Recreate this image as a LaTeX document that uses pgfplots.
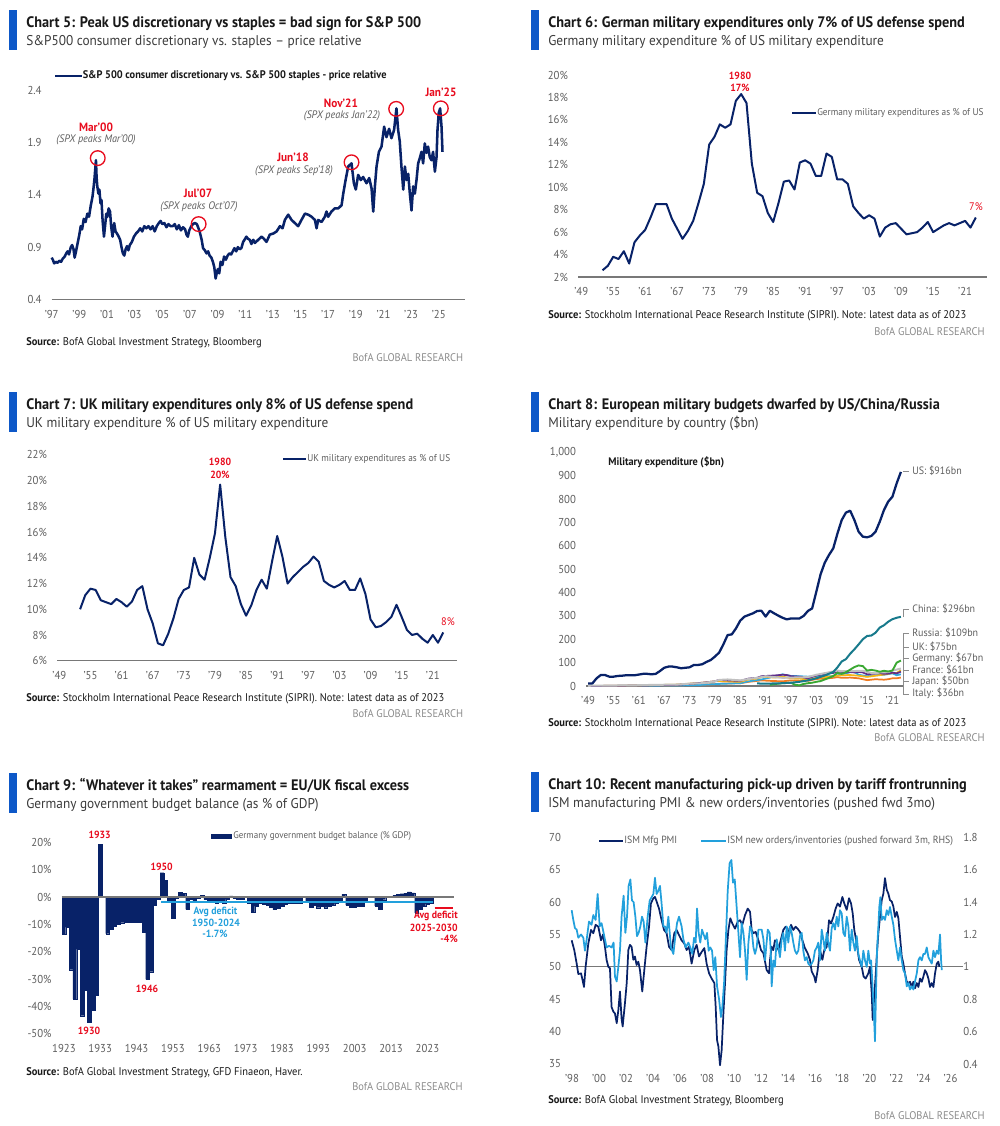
\documentclass[border=0pt]{standalone}
\usepackage{fontspec}
\setmainfont{PT Sans}[FakeStretch=0.94]
\usepackage{pgfplots}
\pgfplotsset{compat=1.18}

\definecolor{bnavy}{RGB}{8,34,104}
\definecolor{bblue}{RGB}{13,88,200}
\definecolor{bred}{RGB}{232,12,30}
\definecolor{blite}{RGB}{34,160,220}
\definecolor{tgray}{RGB}{95,95,95}
\definecolor{sgray}{RGB}{140,140,140}
\definecolor{agray}{RGB}{120,120,120}
\definecolor{ink}{RGB}{25,25,25}
\definecolor{subc}{RGB}{60,60,60}
\definecolor{cteal}{RGB}{24,122,140}
\definecolor{cgreen}{RGB}{58,168,50}
\definecolor{cuk}{RGB}{192,192,192}
\definecolor{cger}{RGB}{245,182,20}
\definecolor{cfra}{RGB}{96,46,138}
\definecolor{cjap}{RGB}{48,168,222}
\definecolor{cita}{RGB}{240,122,32}

\newcommand\fttl{\fontsize{11.4}{13}\selectfont\bfseries}
\newcommand\fsub{\fontsize{10.6}{13}\selectfont}
\newcommand\ftick{\fontsize{8.6}{10}\selectfont}
\newcommand\fleg{\fontsize{7.4}{9}\selectfont}
\newcommand\fsrc{\fontsize{8.35}{10}\selectfont}
\newcommand\flab{\fontsize{8}{10}\selectfont}
\newcommand\fann{\fontsize{9}{10}\selectfont\bfseries}
\newcommand\fnum{\fontsize{7.8}{9}\selectfont\bfseries}
\newcommand\fita{\fontsize{8.15}{10}\selectfont\itshape}

% bar x, bar top, title, subtitle
\newcommand\header[4]{%
  \fill[bblue] (#1,-#2) rectangle (#1+8,-#2-40);
  \node[anchor=base west,inner sep=0pt,text=ink] at (#1+17,-#2-17.3) {\fttl #3};
  \node[anchor=base west,inner sep=0pt,text=subc] at (#1+17,-#2-35.5) {\fsub #4};
}
% x, source baseline, source text, bofa baseline, right edge
\newcommand\footer[5]{%
  \node[anchor=base west,inner sep=0pt,text=ink] at (#1,-#2) {\fsrc\textbf{Source:} #3};
  \node[anchor=base east,inner sep=0pt,text=sgray] at (#5,-#4) {\fsrc BofA GLOBAL RESEARCH};
}

\pgfplotsset{
  bofa/.style={
    scale only axis, clip=false,
    axis x line*=bottom, axis y line*=left,
    x axis line style={-, draw=agray, line width=0.9pt},
    y axis line style={draw=none},
    major tick length=0pt, tick style={draw=none},
    ticklabel style={font=\ftick, text=tgray, inner sep=0pt},
    yticklabel style={anchor=east, xshift=-7.4pt},
    xticklabel style={anchor=north, yshift=-7.6pt},
  },
  yrs/.style={xtick={1949,1955,...,2021},
    xticklabels={'49,'55,'61,'67,'73,'79,'85,'91,'97,'03,'09,'15,'21}},
}

\begin{document}
\begin{tikzpicture}[x=0.75pt,y=0.75pt]
\fill[white] (0,0) rectangle (999,-1126);
\useasboundingbox (0,0) rectangle (999,-1126);

%% ---------------- Chart 5 ----------------
\header{9}{10}{Chart 5: Peak US discretionary vs staples = bad sign for S\&P 500}{S\&P500 consumer discretionary vs. staples – price relative}
\footer{26}{345.7}{BofA Global Investment Strategy, Bloomberg}{361}{463.3}
\draw[bnavy, line width=2pt] (55,-76) -- (82,-76);
\node[anchor=west, inner sep=0pt, text=ink] at (82.5,-76) {\fontsize{8.25}{9}\selectfont\bfseries S\&P 500 consumer discretionary vs. S\&P 500 staples - price relative};
\begin{axis}[bofa, at={(38.775pt,-224.625pt)}, anchor=south west, width=309.98pt, height=157.1pt,
  xmin=1997, xmax=2026.9, ymin=0.4, ymax=2.4,
  xtick={1997,1999,...,2025},
  xticklabels={'97,'99,'01,'03,'05,'07,'09,'11,'13,'15,'17,'19,'21,'23,'25},
  ytick={0.4,0.9,1.4,1.9,2.4}, yticklabels={0.4,0.9,1.4,1.9,2.4}]
\addplot[bnavy, line width=1.9pt, line join=round] coordinates {
(1997.00,0.80)(1997.08,0.78)(1997.18,0.745)(1997.30,0.76)(1997.42,0.75)(1997.55,0.77)(1997.68,0.76)(1997.80,0.79)(1997.94,0.81)(1998.05,0.84)(1998.15,0.86)(1998.25,0.83)(1998.38,0.90)(1998.48,0.92)(1998.58,0.88)(1998.66,0.80)(1998.76,0.86)(1998.88,0.94)(1999.00,1.02)(1999.10,1.10)(1999.20,1.07)(1999.32,1.17)(1999.45,1.14)(1999.58,1.22)(1999.70,1.19)(1999.83,1.30)(1999.95,1.38)(2000.03,1.47)(2000.10,1.56)(2000.20,1.73)(2000.25,1.56)(2000.30,1.48)(2000.38,1.41)(2000.45,1.45)(2000.53,1.32)(2000.60,1.35)(2000.68,1.16)(2000.78,1.00)(2000.86,1.10)(2000.95,1.22)(2001.03,1.19)(2001.12,1.27)(2001.22,1.24)(2001.30,1.10)(2001.40,1.00)(2001.52,1.13)(2001.62,1.05)(2001.72,1.03)(2001.85,1.00)(2001.95,0.97)(2002.05,0.90)(2002.15,0.84)(2002.25,0.82)(2002.35,0.88)(2002.45,0.91)(2002.55,0.87)(2002.65,0.92)(2002.80,0.95)(2002.95,1.00)(2003.10,1.03)(2003.25,1.05)(2003.40,1.08)(2003.55,1.05)(2003.70,1.10)(2003.85,1.08)(2004.00,1.10)(2004.15,1.07)(2004.30,1.10)(2004.45,1.05)(2004.60,1.10)(2004.75,1.13)(2004.88,1.15)(2005.00,1.12)(2005.15,1.13)(2005.30,1.09)(2005.45,1.12)(2005.60,1.10)(2005.75,1.10)(2005.90,1.12)(2006.05,1.07)(2006.20,1.11)(2006.35,1.06)(2006.50,1.09)(2006.65,1.07)(2006.75,1.02)(2006.85,1.00)(2006.95,1.06)(2007.10,1.10)(2007.22,1.12)(2007.35,1.13)(2007.50,1.12)(2007.62,1.08)(2007.70,1.05)(2007.85,0.97)(2007.95,0.89)(2008.08,0.87)(2008.20,0.84)(2008.32,0.86)(2008.42,0.82)(2008.55,0.80)(2008.66,0.76)(2008.76,0.71)(2008.86,0.60)(2008.95,0.66)(2009.02,0.69)(2009.12,0.65)(2009.22,0.76)(2009.35,0.73)(2009.47,0.81)(2009.60,0.78)(2009.73,0.82)(2009.85,0.84)(2009.98,0.83)(2010.10,0.86)(2010.22,0.89)(2010.35,0.86)(2010.47,0.90)(2010.60,0.88)(2010.72,0.89)(2010.85,0.95)(2010.95,0.97)(2011.08,1.00)(2011.20,0.98)(2011.33,0.97)(2011.45,0.93)(2011.58,0.97)(2011.70,0.94)(2011.94,0.97)(2012.18,1.00)(2012.35,0.98)(2012.54,0.95)(2012.78,1.02)(2013.03,1.03)(2013.27,1.05)(2013.51,1.10)(2013.70,1.08)(2013.87,1.16)(2014.11,1.21)(2014.35,1.16)(2014.59,1.13)(2014.83,1.10)(2015.07,1.16)(2015.32,1.22)(2015.56,1.21)(2015.80,1.19)(2016.04,1.16)(2016.16,1.08)(2016.28,1.16)(2016.52,1.14)(2016.76,1.19)(2016.88,1.24)(2017.00,1.19)(2017.24,1.24)(2017.48,1.27)(2017.73,1.27)(2017.97,1.30)(2018.09,1.41)(2018.26,1.54)(2018.45,1.67)(2018.69,1.70)(2018.86,1.51)(2019.00,1.45)(2019.17,1.59)(2019.36,1.54)(2019.53,1.57)(2019.77,1.51)(2019.97,1.56)(2020.14,1.46)(2020.26,1.24)(2020.38,1.48)(2020.50,1.67)(2020.67,1.81)(2020.86,1.86)(2021.05,2.05)(2021.22,1.95)(2021.41,2.03)(2021.58,1.94)(2021.77,2.02)(2021.94,2.225)(2022.06,2.02)(2022.18,1.91)(2022.30,1.67)(2022.43,1.45)(2022.55,1.67)(2022.67,1.54)(2022.79,1.60)(2022.91,1.41)(2023.03,1.25)(2023.15,1.48)(2023.27,1.41)(2023.39,1.54)(2023.51,1.70)(2023.63,1.75)(2023.75,1.81)(2023.87,1.70)(2023.99,1.89)(2024.11,1.80)(2024.23,1.86)(2024.35,1.76)(2024.47,1.73)(2024.59,1.81)(2024.72,1.62)(2024.84,1.76)(2024.91,2.02)(2025.00,2.18)(2025.10,2.225)(2025.20,2.05)(2025.27,1.81)};
\draw[bred, line width=1pt] (axis cs:2000.33,1.75) circle[radius=5.5pt];
\draw[bred, line width=1pt] (axis cs:2007.63,1.12) circle[radius=5.5pt];
\draw[bred, line width=1pt] (axis cs:2018.69,1.71) circle[radius=5.5pt];
\draw[bred, line width=1pt] (axis cs:2021.92,2.22) circle[radius=5.5pt];
\draw[bred, line width=1pt] (axis cs:2025.15,2.225) circle[radius=5.5pt];
\end{axis}
\node[text=bred, inner sep=0pt] at (96,-127) {\fann Mar'00};
\node[text=tgray, inner sep=0pt] at (96,-140) {\fita (SPX peaks Mar'00)};
\node[text=bred, inner sep=0pt] at (198,-193) {\fann Jul'07};
\node[text=tgray, inner sep=0pt] at (199,-207) {\fita (SPX peaks Oct'07)};
\node[text=bred, inner sep=0pt] at (293,-157) {\fann Jun'18};
\node[text=tgray, inner sep=0pt] at (294,-171) {\fita (SPX peaks Sep'18)};
\node[text=bred, inner sep=0pt] at (341,-103) {\fann Nov'21};
\node[text=tgray, inner sep=0pt] at (342,-116) {\fita (SPX peaks Jan'22)};
\node[text=bred, inner sep=0pt] at (441,-92) {\fann Jan'25};

%% ---------------- Chart 6 ----------------
\header{531}{10}{Chart 6: German military expenditures only 7\% of US defense spend}{Germany military expenditure \% of US military expenditure}
\footer{548}{318.3}{Stockholm International Peace Research Institute (SIPRI). Note: latest data as of 2023}{335}{985}
\draw[bnavy, line width=1.6pt] (792,-113) -- (816,-113);
\node[anchor=west, inner sep=0pt, text=tgray] at (817,-113) {\fleg Germany military expenditures as \% of US};
\begin{axis}[bofa, yrs, at={(433.5pt,-207.75pt)}, anchor=south west, width=306.75pt, height=151.5pt,
  xmin=1948.4, xmax=2025.1, ymin=2, ymax=20,
  ytick={2,4,...,20}, yticklabels={2\%,4\%,6\%,8\%,10\%,12\%,14\%,16\%,18\%,20\%}]
\addplot[bnavy, line width=1.5pt, line join=round] coordinates {
(1953,2.6)(1954,3.0)(1955,3.8)(1956,3.6)(1957,4.3)(1958,3.2)(1959,5.1)(1960,5.7)(1961,6.2)(1962,7.3)(1963,8.5)(1964,8.5)(1965,8.5)(1966,7.2)(1967,6.3)(1968,5.4)(1969,6.1)(1970,7.0)(1971,8.6)(1972,10.3)(1973,13.8)(1974,14.5)(1975,15.6)(1976,15.3)(1977,15.6)(1978,17.7)(1979,18.3)(1980,17.5)(1981,12.1)(1982,9.5)(1983,9.2)(1984,7.7)(1985,6.9)(1986,8.6)(1987,10.5)(1988,10.6)(1989,9.8)(1990,12.2)(1991,12.4)(1992,12.1)(1993,11.0)(1994,11.0)(1995,13.0)(1996,12.7)(1997,10.7)(1998,10.7)(1999,10.3)(2000,8.3)(2001,7.7)(2002,7.2)(2003,7.5)(2004,7.2)(2005,5.6)(2006,6.4)(2007,6.7)(2008,6.8)(2009,6.3)(2010,5.8)(2011,5.9)(2012,6.0)(2013,6.4)(2014,6.9)(2015,6.0)(2016,6.3)(2017,6.6)(2018,6.8)(2019,6.6)(2020,6.8)(2021,7.0)(2022,6.4)(2023,7.3)};
\end{axis}
\node[text=bred, inner sep=0pt] at (740,-76) {\fnum 1980};
\node[text=bred, inner sep=0pt] at (740,-88) {\fnum 17\%};
\node[text=bred, inner sep=0pt] at (976,-207) {\fontsize{8.2}{10}\selectfont 7\%};

%% ---------------- Chart 7 ----------------
\header{9}{392}{Chart 7: UK military expenditures only 8\% of US defense spend}{UK military expenditure \% of US military expenditure}
\footer{26}{701.7}{Stockholm International Peace Research Institute (SIPRI). Note: latest data as of 2023}{717.7}{463.3}
\draw[bnavy, line width=1.6pt] (283,-459) -- (306,-459);
\node[anchor=west, inner sep=0pt, text=tgray] at (307,-459) {\fleg UK military expenditures as \% of US};
\begin{axis}[bofa, yrs, at={(42.75pt,-495.525pt)}, anchor=south west, width=300pt, height=154.3pt,
  xmin=1948.55, xmax=2025.66, ymin=6, ymax=22,
  ytick={6,8,...,22}, yticklabels={6\%,8\%,10\%,12\%,14\%,16\%,18\%,20\%,22\%}]
\addplot[bnavy, line width=1.5pt, line join=round] coordinates {
(1953,10.0)(1954,11.1)(1955,11.6)(1956,11.5)(1957,10.7)(1958,10.55)(1959,10.4)(1960,10.8)(1961,10.55)(1962,10.2)(1963,10.6)(1964,11.5)(1965,11.8)(1966,10.0)(1967,8.9)(1968,7.35)(1969,7.2)(1970,8.1)(1971,9.3)(1972,10.8)(1973,11.5)(1974,11.7)(1975,14.0)(1976,12.7)(1977,12.3)(1978,14.0)(1979,15.9)(1980,19.7)(1981,15.6)(1982,12.5)(1983,11.8)(1984,10.4)(1985,9.5)(1986,10.3)(1987,11.5)(1988,12.3)(1989,11.6)(1990,13.7)(1991,15.7)(1992,14.1)(1993,12.0)(1994,12.5)(1995,12.9)(1996,13.3)(1997,13.6)(1998,14.1)(1999,13.7)(2000,12.2)(2001,11.9)(2002,11.7)(2003,11.9)(2004,12.2)(2005,11.5)(2006,11.5)(2007,12.4)(2008,11.2)(2009,9.2)(2010,8.6)(2011,8.7)(2012,9.0)(2013,9.4)(2014,10.35)(2015,9.4)(2016,8.4)(2017,8.0)(2018,8.1)(2019,7.7)(2020,7.4)(2021,8.0)(2022,7.4)(2023,8.2)};
\end{axis}
\node[text=bred, inner sep=0pt] at (220,-462) {\fnum 1980};
\node[text=bred, inner sep=0pt] at (220,-475) {\fnum 20\%};
\node[text=bred, inner sep=0pt] at (448,-622) {\fontsize{8.2}{10}\selectfont 8\%};

%% ---------------- Chart 8 ----------------
\header{531}{392}{Chart 8: European military budgets dwarfed by US/China/Russia}{Military expenditure by country (\$bn)}
\footer{548}{726}{Stockholm International Peace Research Institute (SIPRI). Note: latest data as of 2023}{741}{985}
\node[anchor=west, inner sep=0pt, text=ink] at (608,-462) {\fontsize{8.2}{10}\selectfont\bfseries Military expenditure (\$bn)};
\begin{axis}[bofa, yrs, at={(439.5pt,-514.5pt)}, anchor=south west, width=237.75pt, height=175.3pt,
  xmin=1948.5, xmax=2023.5, ymin=0, ymax=1000,
  ytick={0,100,...,1000}, yticklabels={0,100,200,300,400,500,600,700,800,900,{1,000}}]
\addplot[cita, line width=1.3pt] coordinates {(1949,0)(1955,0.5)(1960,1)(1965,2)(1970,3)(1975,5)(1979,8)(1980,10)(1985,12)(1987,18)(1990,24)(1992,22)(1995,20)(1997,24)(1999,23)(2001,22)(2003,30)(2005,32)(2007,35)(2008,38)(2009,35)(2011,36)(2013,33)(2015,25)(2017,29)(2019,27)(2020,29)(2021,33)(2022,33)(2023,36)};
\addplot[cjap, line width=1.3pt] coordinates {(1949,0)(1955,0.5)(1960,1)(1965,1.5)(1970,2)(1975,4)(1980,9)(1985,12)(1987,20)(1990,28)(1992,36)(1995,50)(1997,43)(1999,42)(2001,40)(2003,42)(2005,43)(2007,41)(2009,50)(2011,59)(2012,60)(2013,48)(2015,42)(2017,46)(2019,48)(2021,54)(2022,46)(2023,50)};
\addplot[cger, line width=1.3pt] coordinates {(1949,0)(1955,1)(1960,2)(1965,4)(1970,6)(1973,10)(1976,14)(1979,20)(1980,22)(1982,20)(1985,18)(1987,28)(1989,32)(1990,38)(1991,40)(1993,36)(1995,40)(1997,33)(1999,32)(2001,27)(2003,35)(2005,38)(2007,42)(2009,46)(2011,47)(2013,44)(2015,39)(2017,44)(2019,49)(2021,56)(2022,56)(2023,67)};
\addplot[cfra, line width=1.3pt] coordinates {(1949,0)(1955,1)(1960,2)(1965,3)(1970,5)(1973,9)(1976,14)(1979,20)(1980,26)(1982,24)(1985,22)(1987,32)(1989,35)(1990,42)(1991,43)(1993,45)(1995,48)(1996,47)(1997,42)(1999,40)(2001,33)(2003,45)(2005,52)(2007,56)(2008,62)(2009,60)(2010,58)(2011,60)(2012,58)(2013,60)(2014,58)(2015,50)(2016,52)(2017,53)(2018,55)(2019,52)(2020,53)(2021,57)(2022,54)(2023,61)};
\addplot[cuk, line width=1.5pt] coordinates {(1949,1)(1955,2)(1960,3)(1965,5)(1970,6)(1973,10)(1976,12)(1979,20)(1980,26)(1982,28)(1985,24)(1987,30)(1989,35)(1990,38)(1991,42)(1993,38)(1995,35)(1997,36)(1999,37)(2001,38)(2003,48)(2005,55)(2007,62)(2008,66)(2009,63)(2010,64)(2012,64)(2014,65)(2015,60)(2016,56)(2017,54)(2018,58)(2019,58)(2020,60)(2021,67)(2022,70)(2023,75)};
\addplot[cgreen, line width=1.4pt] coordinates {(1992,5)(1993,8)(1995,12)(1997,14)(1998,5)(1999,3)(2000,9)(2001,12)(2002,14)(2003,18)(2004,21)(2005,28)(2006,35)(2007,43)(2008,56)(2009,52)(2010,59)(2011,70)(2012,81)(2013,88)(2014,85)(2015,66)(2016,69)(2017,66)(2018,61)(2019,65)(2020,62)(2021,66)(2022,100)(2023,109)};
\addplot[cteal, line width=1.5pt] coordinates {(1989,11)(1991,10)(1993,11)(1995,12)(1997,14)(1999,18)(2001,24)(2003,33)(2005,45)(2007,60)(2008,80)(2009,105)(2010,115)(2011,138)(2012,157)(2013,178)(2014,200)(2015,214)(2016,216)(2017,228)(2018,250)(2019,260)(2020,275)(2021,286)(2022,292)(2023,296)};
\addplot[bnavy, line width=1.7pt, line join=round] coordinates {
(1949,11)(1950,11)(1951,33)(1952,47)(1953,47)(1954,40)(1955,40)(1956,43)(1957,44)(1958,46)(1959,46)(1960,46)(1961,49)(1962,52)(1963,52)(1964,50)(1965,52)(1966,64)(1967,78)(1968,83)(1969,83)(1970,80)(1971,76)(1972,78)(1973,80)(1974,90)(1975,90)(1976,93)(1977,103)(1978,111)(1979,126)(1980,143)(1981,178)(1982,218)(1983,221)(1984,247)(1985,280)(1986,297)(1987,304)(1988,311)(1989,321)(1990,322)(1991,297)(1992,322)(1993,311)(1994,301)(1995,292)(1996,285)(1997,289)(1998,289)(1999,289)(2000,300)(2001,321)(2002,332)(2003,404)(2004,478)(2005,528)(2006,561)(2007,589)(2008,653)(2009,710)(2010,742)(2011,750)(2012,710)(2013,660)(2014,639)(2015,636)(2016,642)(2017,660)(2018,703)(2019,753)(2020,789)(2021,810)(2022,867)(2023,916)};
\end{axis}
\draw[sgray, line width=0.6pt] (903,-471) -- (909,-471);
\draw[sgray, line width=0.6pt] (903,-617) -- (903,-609) -- (909,-609);
\draw[sgray, line width=0.6pt] (903,-633) -- (903,-694);
\foreach \yy in {633,647,658,670,681,694} {\draw[sgray, line width=0.6pt] (903,-\yy) -- (909,-\yy);}
\node[anchor=west, inner sep=0pt, text=tgray] at (912,-471) {\flab US: \$916bn};
\node[anchor=west, inner sep=0pt, text=tgray] at (912,-609) {\flab China: \$296bn};
\node[anchor=west, inner sep=0pt, text=tgray] at (912,-633) {\flab Russia: \$109bn};
\node[anchor=west, inner sep=0pt, text=tgray] at (912,-647) {\flab UK: \$75bn};
\node[anchor=west, inner sep=0pt, text=tgray] at (912,-658) {\flab Germany: \$67bn};
\node[anchor=west, inner sep=0pt, text=tgray] at (912,-670) {\flab France: \$61bn};
\node[anchor=west, inner sep=0pt, text=tgray] at (912,-681) {\flab Japan: \$50bn};
\node[anchor=west, inner sep=0pt, text=tgray] at (912,-693) {\flab Italy: \$36bn};

%% ---------------- Chart 9 ----------------
\header{9}{773}{Chart 9: “Whatever it takes” rearmament = EU/UK fiscal excess}{Germany government budget balance (as \% of GDP)}
\footer{26}{1075}{BofA Global Investment Strategy, GFD Finaeon, Haver.}{1090.7}{463}
\fill[bnavy] (211,-833.5) rectangle (232,-839);
\node[anchor=west, inner sep=0pt, text=tgray] at (233,-836.3) {\fontsize{7.2}{9}\selectfont Germany government budget balance (\% GDP)};
\begin{axis}[bofa, at={(46.275pt,-775.275pt)}, anchor=south west, width=294.2pt, height=143.55pt,
  x axis line style={draw=none},
  xmin=1922.4, xmax=2030.3, ymin=-50, ymax=20,
  xtick={1923,1933,...,2023}, xticklabels={1923,1933,1943,1953,1963,1973,1983,1993,2003,2013,2023},
  ytick={-50,-40,...,20}, yticklabels={-50\%,-40\%,-30\%,-20\%,-10\%,0\%,10\%,20\%}]
\addplot[ybar, bar width=1, fill=bnavy, draw=bnavy, line width=0.15pt] coordinates {
(1923,-13.7)(1924,-11.0)(1925,-26.6)(1926,-37.3)(1927,-19.1)(1928,-43.4)(1929,-34.0)(1930,-45.9)(1931,-41.3)(1932,-35.9)(1933,19.2)(1935,-13.4)(1936,-11.8)(1937,-10.6)(1938,-9.8)(1939,-9.4)(1940,-9.2)(1941,-9.2)(1942,-9.2)(1943,-9.2)(1944,-9.2)(1945,-13.0)(1946,-30.1)(1947,-27.3)(1948,-2.9)(1949,-0.9)(1950,8.9)(1951,6.1)(1952,-1.2)(1953,-7.8)(1954,-0.3)(1955,1.8)(1956,1.3)(1957,-4.5)(1958,-0.9)(1959,-1.7)(1960,-0.5)(1961,0.7)(1962,-0.9)(1963,-1.2)(1964,-1.2)(1965,-2.1)(1966,-1.2)(1967,-2.4)(1968,-0.9)(1969,0.4)(1970,-0.5)(1971,-0.9)(1972,-0.9)(1973,-0.2)(1974,-2.1)(1975,-5.7)(1976,-3.3)(1977,-2.4)(1978,-2.7)(1979,-2.9)(1980,-3.7)(1981,-4.6)(1982,-4.1)(1983,-3.3)(1984,-2.7)(1985,-2.2)(1986,-2.2)(1987,-2.4)(1988,-2.4)(1989,0.1)(1990,-1.7)(1991,-3.7)(1992,-3.0)(1993,-3.9)(1994,-3.3)(1995,-3.9)(1996,-3.5)(1997,-2.9)(1998,-2.4)(1999,-1.7)(2000,1.0)(2001,-3.0)(2002,-3.8)(2003,-3.7)(2004,-3.4)(2005,-3.3)(2006,-1.6)(2007,0.2)(2008,-0.1)(2009,-3.2)(2010,-4.4)(2011,-1.0)(2012,0.0)(2013,0.0)(2014,0.6)(2015,1.0)(2016,1.2)(2017,1.3)(2018,1.9)(2019,1.5)(2020,-5.8)(2021,-4.3)(2022,-3.3)(2023,-2.5)(2024,-2.1)};
\draw[agray, line width=0.8pt] (axis cs:1922.4,0) -- (axis cs:2030.3,0);
\addplot[blite, line width=1.4pt] coordinates {(1949.8,-1.7)(2024.4,-1.7)};
\addplot[bred, line width=1.2pt] coordinates {(2025,-4)(2030.1,-4)};
\end{axis}
\node[text=bred, inner sep=0pt] at (99.7,-835) {\fnum 1933};
\node[text=bred, inner sep=0pt] at (161.7,-866.7) {\fnum 1950};
\node[text=bred, inner sep=0pt] at (147,-989) {\fnum 1946};
\node[text=bred, inner sep=0pt] at (89,-1030.7) {\fnum 1930};
\node[text=blite, inner sep=0pt] at (215.5,-911.7) {\fnum Avg deficit};
\node[text=blite, inner sep=0pt] at (216,-923) {\fnum 1950-2024};
\node[text=blite, inner sep=0pt] at (215,-934) {\fnum -1.7\%};
\node[text=bred, inner sep=0pt, anchor=east] at (458,-916) {\fnum Avg deficit};
\node[text=bred, inner sep=0pt, anchor=east] at (458,-927.7) {\fnum 2025-2030};
\node[text=bred, inner sep=0pt, anchor=east] at (458,-939) {\fnum -4\%};

%% ---------------- Chart 10 ----------------
\header{531}{772}{Chart 10: Recent manufacturing pick-up driven by tariff frontrunning}{ISM manufacturing PMI \& new orders/inventories (pushed fwd 3mo)}
\footer{548}{1103.3}{BofA Global Investment Strategy, Bloomberg}{1119}{985}
\draw[bnavy, line width=1.6pt] (599,-841) -- (623,-841);
\node[anchor=west, inner sep=0pt, text=tgray] at (624,-841) {\fontsize{7.8}{9}\selectfont ISM Mfg PMI};
\draw[blite, line width=1.6pt] (701,-841) -- (726,-841);
\node[anchor=west, inner sep=0pt, text=tgray] at (727,-841) {\fontsize{7.8}{9}\selectfont ISM new orders/inventories (pushed forward 3m, RHS)};
\begin{axis}[bofa, at={(428.25pt,-798pt)}, anchor=south west, width=294pt, height=170pt,
  x axis line style={draw=none},
  xmin=1997.93, xmax=2026.92, ymin=35, ymax=70,
  xtick={1998,2000,...,2026},
  xticklabels={'98,'00,'02,'04,'06,'08,'10,'12,'14,'16,'18,'20,'22,'24,'26},
  ytick={35,40,...,70}, yticklabels={35,40,45,50,55,60,65,70}]
\draw[agray, line width=0.8pt] (axis cs:1997.93,50) -- (axis cs:2026.92,50);
\addplot[bnavy, line width=1.3pt, line join=round] coordinates {
(1997.98,54.1)(1998.17,52.6)(1998.35,50.5)(1998.47,48.9)(1998.67,49.0)(1998.76,48.2)(1998.89,46.9)(1999.01,50.0)(1999.21,53.6)(1999.41,55.7)(1999.58,55.2)(1999.75,56.5)(1999.95,56.2)(2000.15,54.1)(2000.30,55.0)(2000.44,53.1)(2000.56,51.1)(2000.69,50.0)(2000.81,49.8)(2000.93,43.8)(2001.06,43.1)(2001.18,42.8)(2001.31,41.3)(2001.43,43.3)(2001.55,46.2)(2001.67,42.0)(2001.75,40.8)(2001.92,44.4)(2002.05,47.5)(2002.17,52.6)(2002.29,53.4)(2002.41,53.1)(2002.54,51.1)(2002.66,51.6)(2002.78,50.3)(2002.91,50.8)(2003.03,49.5)(2003.20,46.2)(2003.35,49.5)(2003.52,53.1)(2003.70,56.2)(2003.84,59.8)(2004.02,60.6)(2004.14,60.8)(2004.26,60.1)(2004.44,59.0)(2004.63,57.2)(2004.81,55.7)(2005.00,55.2)(2005.18,53.1)(2005.37,52.6)(2005.57,55.2)(2005.74,55.7)(2005.92,54.9)(2006.11,54.1)(2006.31,53.6)(2006.48,52.6)(2006.66,53.1)(2006.85,50.5)(2007.05,52.6)(2007.22,53.4)(2007.40,51.6)(2007.59,52.3)(2007.79,52.9)(2007.96,50.5)(2008.14,49.0)(2008.33,48.2)(2008.53,47.5)(2008.63,43.8)(2008.73,38.7)(2008.83,37.7)(2008.95,34.8)(2009.07,37.1)(2009.20,42.8)(2009.32,47.5)(2009.44,52.6)(2009.57,55.7)(2009.71,57.5)(2009.86,56.7)(2010.06,55.9)(2010.26,57.0)(2010.43,57.2)(2010.60,56.5)(2010.80,58.0)(2011.00,59.0)(2011.17,58.5)(2011.29,55.7)(2011.42,55.2)(2011.59,55.4)(2011.79,54.1)(2011.98,52.6)(2012.16,52.1)(2012.40,49.5)(2012.58,49.0)(2012.65,51.1)(2012.77,53.1)(2012.89,52.6)(2013.01,54.1)(2013.14,53.9)(2013.26,52.6)(2013.38,53.6)(2013.51,54.7)(2013.63,55.7)(2013.80,56.2)(2013.95,55.9)(2014.05,54.7)(2014.20,56.5)(2014.37,55.7)(2014.54,56.2)(2014.69,55.9)(2014.86,55.4)(2015.04,54.1)(2015.23,52.9)(2015.43,52.1)(2015.60,51.1)(2015.73,49.3)(2015.92,48.5)(2016.02,47.6)(2016.17,49.5)(2016.34,52.6)(2016.52,51.1)(2016.66,52.6)(2016.84,53.1)(2017.01,57.2)(2017.16,56.7)(2017.33,57.7)(2017.50,59.0)(2017.65,59.8)(2017.82,59.3)(2018.00,60.8)(2018.14,59.8)(2018.32,58.8)(2018.49,60.6)(2018.64,59.8)(2018.76,58.3)(2018.88,55.7)(2019.06,53.6)(2019.23,51.1)(2019.43,50.0)(2019.57,48.5)(2019.72,48.2)(2019.92,49.0)(2020.04,50.0)(2020.17,45.9)(2020.24,41.8)(2020.34,44.9)(2020.44,48.0)(2020.54,51.6)(2020.66,55.2)(2020.78,57.7)(2020.91,60.3)(2021.03,61.3)(2021.15,63.7)(2021.28,61.9)(2021.40,61.3)(2021.52,60.3)(2021.65,60.1)(2021.77,59.3)(2021.89,57.7)(2022.02,58.5)(2022.14,57.5)(2022.26,54.7)(2022.39,51.6)(2022.51,50.5)(2022.63,49.0)(2022.76,47.7)(2022.88,47.5)(2023.00,47.7)(2023.13,46.9)(2023.25,47.7)(2023.37,46.7)(2023.50,47.5)(2023.62,46.9)(2023.74,48.2)(2023.87,47.7)(2023.99,48.5)(2024.11,49.5)(2024.24,49.0)(2024.36,48.2)(2024.48,46.9)(2024.61,47.5)(2024.73,46.9)(2024.85,49.0)(2024.98,50.5)(2025.10,50.8)(2025.17,50.0)};
\end{axis}
\begin{axis}[bofa, at={(428.25pt,-798pt)}, anchor=south west, width=294pt, height=170pt,
  hide x axis, axis y line*=right,
  yticklabel style={anchor=west, xshift=7.5pt},
  xmin=1997.93, xmax=2026.92, ymin=0.4, ymax=1.8,
  ytick={0.4,0.6,...,1.8}, yticklabels={0.4,0.6,0.8,1,1.2,1.4,1.6,1.8}]
\addplot[blite, line width=1.3pt, line join=round] coordinates {
(1997.98,1.35)(1998.10,1.29)(1998.22,1.24)(1998.35,1.23)(1998.47,1.18)(1998.67,1.20)(1998.84,1.18)(1998.96,1.10)(1999.09,1.17)(1999.26,1.28)(1999.45,1.26)(1999.58,1.32)(1999.75,1.29)(1999.90,1.45)(2000.05,1.25)(2000.19,1.27)(2000.39,1.19)(2000.56,1.12)(2000.74,1.13)(2000.93,1.12)(2001.08,1.15)(2001.18,0.94)(2001.31,0.91)(2001.43,1.00)(2001.55,1.10)(2001.67,1.31)(2001.82,1.44)(2001.95,1.21)(2002.07,1.31)(2002.19,1.50)(2002.32,1.54)(2002.44,1.41)(2002.56,1.40)(2002.69,1.31)(2002.81,1.19)(2002.93,1.21)(2003.06,1.25)(2003.18,1.31)(2003.30,1.28)(2003.43,1.15)(2003.60,1.31)(2003.75,1.41)(2003.89,1.43)(2004.02,1.45)(2004.14,1.55)(2004.26,1.45)(2004.39,1.47)(2004.51,1.50)(2004.63,1.39)(2004.76,1.25)(2004.88,1.25)(2005.00,1.21)(2005.13,1.31)(2005.32,1.12)(2005.50,1.08)(2005.62,1.17)(2005.77,1.27)(2005.92,1.31)(2006.11,1.25)(2006.24,1.17)(2006.41,1.12)(2006.61,1.15)(2006.75,1.12)(2006.90,1.08)(2007.03,1.18)(2007.15,1.15)(2007.25,1.36)(2007.37,1.21)(2007.49,1.15)(2007.62,1.23)(2007.74,1.20)(2007.86,1.17)(2007.99,1.21)(2008.11,1.10)(2008.23,1.12)(2008.36,1.10)(2008.48,0.98)(2008.60,1.06)(2008.73,0.88)(2008.88,0.80)(2009.02,0.69)(2009.12,0.75)(2009.25,0.90)(2009.37,1.15)(2009.52,1.47)(2009.66,1.64)(2009.79,1.66)(2009.91,1.52)(2010.04,1.54)(2010.18,1.37)(2010.31,1.21)(2010.43,1.06)(2010.55,1.27)(2010.68,1.21)(2010.80,1.10)(2010.92,0.92)(2011.05,1.15)(2011.17,1.25)(2011.29,1.23)(2011.42,1.12)(2011.54,1.08)(2011.66,1.12)(2011.79,1.23)(2012.03,1.23)(2012.16,1.17)(2012.28,1.04)(2012.48,1.23)(2012.62,1.21)(2012.70,1.10)(2012.77,0.88)(2012.89,1.04)(2013.01,1.00)(2013.14,1.17)(2013.26,1.12)(2013.38,1.06)(2013.51,1.17)(2013.63,1.21)(2013.75,1.10)(2013.88,1.25)(2014.00,1.15)(2014.12,1.25)(2014.25,1.21)(2014.37,1.15)(2014.49,1.10)(2014.62,1.08)(2014.74,1.10)(2014.86,1.19)(2014.99,1.21)(2015.11,1.10)(2015.23,1.04)(2015.36,1.06)(2015.48,1.02)(2015.60,1.01)(2015.73,1.02)(2015.85,1.04)(2015.97,1.10)(2016.10,1.12)(2016.22,1.15)(2016.34,1.04)(2016.47,1.23)(2016.59,1.17)(2016.71,1.10)(2016.84,1.21)(2016.96,1.15)(2017.08,1.10)(2017.21,1.24)(2017.33,1.27)(2017.45,1.23)(2017.58,1.31)(2017.70,1.25)(2017.82,1.35)(2017.95,1.33)(2018.07,1.21)(2018.19,1.19)(2018.32,1.31)(2018.44,1.25)(2018.56,1.10)(2018.69,1.23)(2018.81,1.15)(2018.93,1.10)(2019.06,1.19)(2019.18,1.08)(2019.30,1.04)(2019.43,1.00)(2019.55,1.10)(2019.67,1.04)(2019.80,1.00)(2019.92,1.10)(2020.04,1.02)(2020.12,1.04)(2020.22,0.90)(2020.32,0.73)(2020.41,0.54)(2020.49,0.86)(2020.56,1.10)(2020.66,1.25)(2020.73,1.37)(2020.81,1.43)(2020.91,1.29)(2021.03,1.31)(2021.15,1.29)(2021.28,1.35)(2021.40,1.32)(2021.52,1.37)(2021.65,1.31)(2021.77,1.26)(2021.89,1.17)(2022.02,1.10)(2022.14,1.04)(2022.26,1.12)(2022.39,1.04)(2022.51,0.98)(2022.63,0.96)(2022.76,0.88)(2022.88,0.90)(2023.00,0.86)(2023.13,0.88)(2023.25,0.86)(2023.37,0.91)(2023.50,0.96)(2023.62,1.04)(2023.74,1.06)(2023.87,1.04)(2023.99,1.08)(2024.11,1.08)(2024.24,1.12)(2024.36,1.06)(2024.48,1.04)(2024.61,1.02)(2024.73,1.10)(2024.85,1.06)(2024.98,1.10)(2025.10,1.08)(2025.22,1.20)(2025.30,1.04)(2025.35,0.98)};
\end{axis}
\end{tikzpicture}
\end{document}
